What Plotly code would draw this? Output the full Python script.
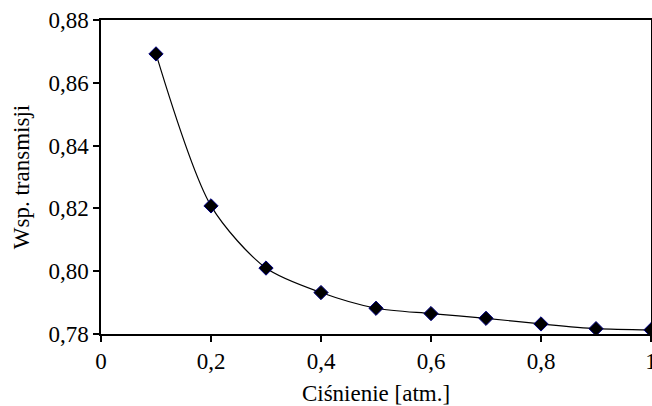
import plotly.graph_objects as go

# Transmission coefficient vs. pressure
pressure = [0.1, 0.2, 0.3, 0.4, 0.5, 0.6, 0.7, 0.8, 0.9, 1.0]
transmission = [0.8692, 0.8208, 0.8010, 0.7932, 0.7882, 0.7865, 0.7850, 0.7832, 0.7817, 0.7813]

x_tick_vals = [0, 0.2, 0.4, 0.6, 0.8, 1.0]
x_tick_text = ["0", "0,2", "0,4", "0,6", "0,8", "1"]
y_tick_vals = [0.78, 0.80, 0.82, 0.84, 0.86, 0.88]
y_tick_text = ["0,78", "0,80", "0,82", "0,84", "0,86", "0,88"]

FONT = "Liberation Serif"
SIZE = 23

fig = go.Figure()
fig.add_trace(go.Scatter(
    x=pressure,
    y=transmission,
    mode="lines+markers",
    line=dict(color="black", width=1.2, shape="spline", smoothing=0.8),
    marker=dict(symbol="diamond", size=11, color="black",
                line=dict(color="#000080", width=1)),
    cliponaxis=False,
    showlegend=False,
))

axis_common = dict(
    showline=True, linecolor="black", linewidth=1.5, mirror=True,
    showgrid=False, zeroline=False,
    ticks="outside", ticklen=6, tickcolor="black", tickwidth=1.5,
    ticklabeloverflow="allow", automargin=False,
    tickfont=dict(family=FONT, size=SIZE, color="black"),
)

fig.update_layout(
    width=652, height=406,
    margin=dict(l=101, r=1, t=20, b=72),
    paper_bgcolor="white", plot_bgcolor="white",
    font=dict(family=FONT, size=SIZE, color="black"),
    xaxis=dict(range=[0, 1], tickvals=x_tick_vals, ticktext=x_tick_text,
               title=dict(text="Ciśnienie [atm.]", font=dict(family=FONT, size=SIZE), standoff=17),
               **axis_common),
    yaxis=dict(range=[0.78, 0.88], tickvals=y_tick_vals, ticktext=y_tick_text,
               title=dict(text="Wsp. transmisji", font=dict(family=FONT, size=SIZE), standoff=12),
               **axis_common),
)

fig.write_html("out.html")
